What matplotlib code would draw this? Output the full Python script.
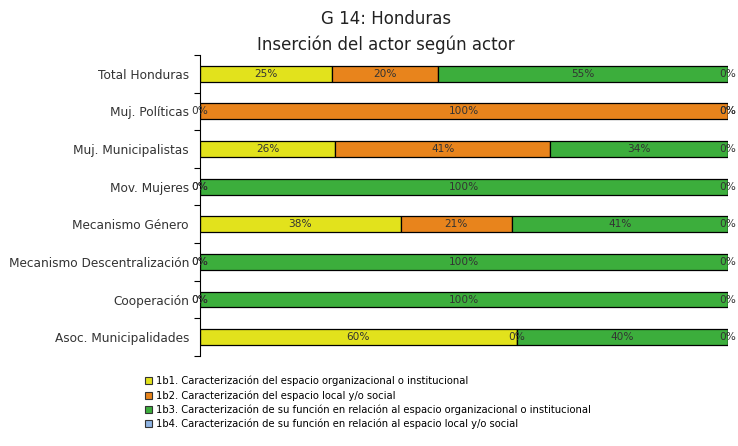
import numpy as np
import matplotlib
matplotlib.use('Agg')
import matplotlib.pyplot as plt
from matplotlib.patches import Patch

plt.rcParams['font.family'] = ['DejaVu Sans']

# 数据
actores = ['Total Honduras', 'Muj. Políticas', 'Muj. Municipalistas', 'Mov. Mujeres',
           'Mecanismo Género', 'Mecanismo Descentralización', 'Cooperación',
           'Asoc. Municipalidades']
b1 = [25, 0, 25.6, 0, 38, 0, 0, 60]
b2 = [20, 100, 40.7, 0, 21, 0, 0, 0]
b3 = [55, 0, 33.7, 100, 41, 100, 100, 40]
b4 = [0, 0, 0, 0, 0, 0, 0, 0]

series = [b1, b2, b3, b4]
leyenda = ['1b1. Caracterización del espacio organizacional o institucional',
           '1b2. Caracterización del espacio local y/o social',
           '1b3. Caracterización de su función en relación al espacio organizacional o institucional',
           '1b4. Caracterización de su función en relación al espacio local y/o social']
colores = ['#e2e21c', '#e8841c', '#3cae3c', '#8fb4e3']

fig = plt.figure(figsize=(7.38, 4.46), dpi=100)
ax = fig.add_axes([0.271, 0.2018, 0.7155, 0.675])

y = np.arange(len(actores))
left = np.zeros(len(actores))
for vals, col in zip(series, colores):
    vals = np.array(vals, dtype=float)
    ax.barh(y, vals, left=left, height=0.42, color=col, edgecolor='black', linewidth=0.9)
    for yi, (l, v) in enumerate(zip(left, vals)):
        ax.text(l + v / 2, yi, f'{round(v):.0f}%', ha='center', va='center',
                fontsize=7.6, color='#333333')
    left += vals

ax.set_xlim(0, 100)
ax.set_ylim(len(actores) - 0.5, -0.5)
ax.set_yticks(y)
ax.set_yticklabels(actores, fontsize=8.7, color='#333333')
ax.tick_params(axis='y', which='major', length=0, pad=8)
ax.set_yticks(np.arange(-0.5, len(actores)), minor=True)
ax.tick_params(axis='y', which='minor', length=4, width=0.8)
ax.set_xticks([])
for s in ['top', 'right', 'bottom']:
    ax.spines[s].set_visible(False)
ax.spines['left'].set_linewidth(0.8)

fig.text(0.523, 0.958, 'G 14: Honduras', ha='center', va='center', fontsize=12, color='#222222')
fig.text(0.523, 0.9, 'Inserción del actor según actor', ha='center', va='center',
         fontsize=12, color='#222222')

handles = [Patch(facecolor=c, edgecolor='#333333', linewidth=0.8) for c in colores]
fig.legend(handles, leyenda, loc='upper left', bbox_to_anchor=(0.197, 0.157),
           frameon=False, fontsize=7.2, handlelength=0.7, handleheight=0.7,
           handletextpad=0.35, labelspacing=0.38, borderpad=0, borderaxespad=0)

plt.savefig('out.png', dpi=100, facecolor='white')
